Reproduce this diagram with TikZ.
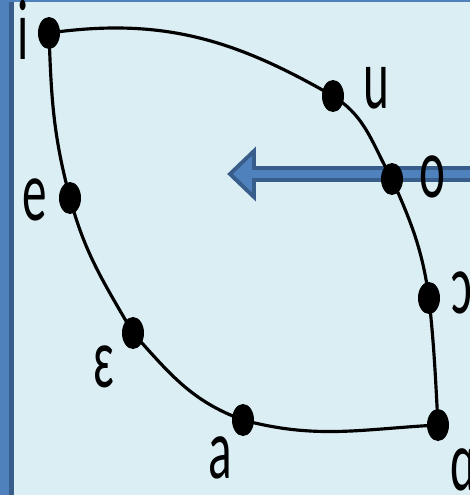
\documentclass[tikz,border=0pt]{standalone}
\usepackage{fontspec}
\setmainfont{Carlito}
\usetikzlibrary{shapes.geometric}
\definecolor{paper}{HTML}{DAEEF3}
\definecolor{frameblue}{HTML}{4F81BD}
\definecolor{framedark}{HTML}{385D8A}
\newcommand{\tallglyph}[1]{\scalebox{1}[1.75]{#1}}
\tikzset{
  vdot/.style={ellipse, fill=black, inner sep=0pt, minimum width=0.44cm, minimum height=0.64cm},
  vlabel/.style={anchor=base, inner sep=0pt, font=\fontsize{28}{30}\selectfont},
  chart/.style={line width=1.8pt, black},
}

\begin{document}
\begin{tikzpicture}[x=0.02cm,y=0.02cm]
  \fill[paper] (0,0) rectangle (470,-495);
  \useasboundingbox (0,0) rectangle (470,-495);
  % frame
  \fill[frameblue] (0,0) rectangle (9,-495);
  \fill[framedark] (9,-2) rectangle (14,-495);
  \fill[frameblue] (0,0) rectangle (470,-2);
  % arrow
  \filldraw[fill=frameblue, draw=framedark, line width=2.2pt, line join=miter]
    (470,-168) -- (254,-168) -- (254,-151) -- (230,-174) -- (254,-197) -- (254,-180) -- (470,-180);
  % vowel points
  \node[vdot] (i) at (49,-33) {};
  \node[vdot] (u) at (333,-96) {};
  \node[vdot] (o) at (392,-179) {};
  \node[vdot] (oo) at (429,-298) {};
  \node[vdot] (aa) at (438,-425) {};
  \node[vdot] (a) at (243,-420) {};
  \node[vdot] (ee) at (133,-333) {};
  \node[vdot] (e) at (70,-198) {};
  % outline
  \draw[chart] (i.center) to[out=8,in=150] (u.center) to[out=-32,in=120] (o.center)
    to[out=-66,in=98] (oo.center) to[out=-84,in=93] (aa.center);
  \draw[chart] (aa.center) to[out=183,in=-15] (a.center) to[out=160,in=-48] (ee.center)
    to[out=120,in=-75] (e.center) to[out=105,in=-88] (i.center);
  % labels
  \node[vlabel] (l-i) at (23,-59) {\tallglyph{i}};
  \node[vlabel] (l-u) at (376,-108) {\tallglyph{u}};
  \node[vlabel] (l-o) at (432,-197) {\tallglyph{o}};
  \node[vlabel] (l-oo) at (462,-313) {\tallglyph{ɔ}};
  \node[vlabel] (l-aa) at (463,-490) {\tallglyph{ɑ}};
  \node[vlabel] (l-a) at (220,-478) {\tallglyph{a}};
  \node[vlabel] (l-ee) at (104,-387) {\tallglyph{ɛ}};
  \node[vlabel] (l-e) at (35,-220) {\tallglyph{e}};
\end{tikzpicture}
\end{document}
